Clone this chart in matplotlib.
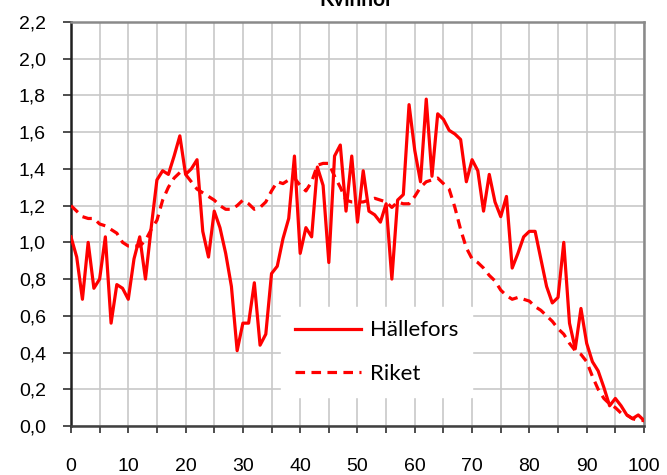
#!/usr/bin/env python3
import matplotlib
matplotlib.use("Agg")
import matplotlib.pyplot as plt
import numpy as np
from matplotlib.ticker import MultipleLocator, FuncFormatter

# age 0..100
ages = np.arange(0, 101)

hallefors = [
    1.03, 0.92, 0.69, 1.00, 0.75, 0.80, 1.03, 0.56, 0.77, 0.75,   # 0-9
    0.69, 0.91, 1.03, 0.80, 1.08, 1.34, 1.39, 1.37, 1.47, 1.58,   # 10-19
    1.37, 1.40, 1.45, 1.06, 0.92, 1.17, 1.08, 0.94, 0.76, 0.41,   # 20-29
    0.56, 0.56, 0.78, 0.44, 0.50, 0.83, 0.87, 1.02, 1.13, 1.47,   # 30-39
    0.94, 1.08, 1.03, 1.41, 1.31, 0.89, 1.47, 1.53, 1.17, 1.47,   # 40-49
    1.11, 1.39, 1.17, 1.15, 1.11, 1.21, 0.80, 1.23, 1.26, 1.75,   # 50-59
    1.50, 1.33, 1.78, 1.36, 1.70, 1.67, 1.61, 1.59, 1.56, 1.33,   # 60-69
    1.45, 1.39, 1.17, 1.37, 1.22, 1.14, 1.25, 0.86, 0.94, 1.03,   # 70-79
    1.06, 1.06, 0.91, 0.76, 0.67, 0.70, 1.00, 0.56, 0.42, 0.64,   # 80-89
    0.45, 0.35, 0.30, 0.21, 0.11, 0.15, 0.11, 0.06, 0.04, 0.06,   # 90-99
    0.03,
]

riket = [
    1.20, 1.17, 1.14, 1.13, 1.13, 1.10, 1.09, 1.07, 1.05, 1.00,   # 0-9
    0.98, 0.98, 0.98, 1.01, 1.07, 1.12, 1.23, 1.30, 1.35, 1.38,   # 10-19
    1.37, 1.33, 1.29, 1.27, 1.25, 1.23, 1.20, 1.18, 1.18, 1.20,   # 20-29
    1.23, 1.21, 1.18, 1.19, 1.22, 1.28, 1.33, 1.32, 1.34, 1.35,   # 30-39
    1.31, 1.28, 1.33, 1.42, 1.43, 1.43, 1.36, 1.30, 1.23, 1.22,   # 40-49
    1.22, 1.22, 1.23, 1.24, 1.23, 1.22, 1.19, 1.22, 1.21, 1.21,   # 50-59
    1.25, 1.30, 1.33, 1.34, 1.35, 1.32, 1.29, 1.19, 1.07, 0.97,   # 60-69
    0.91, 0.89, 0.86, 0.82, 0.79, 0.74, 0.71, 0.69, 0.70, 0.69,   # 70-79
    0.68, 0.65, 0.63, 0.60, 0.57, 0.53, 0.50, 0.45, 0.41, 0.39,   # 80-89
    0.35, 0.27, 0.20, 0.15, 0.12, 0.10, 0.07, 0.06, 0.04, 0.03,   # 90-99
    0.03,
]

RED = "#ff0000"
TICK_FONT = "Liberation Sans"
TEXT_FONT = ["Lato", "DejaVu Sans"]


def comma_fmt(v, pos):
    return f"{v:.1f}".replace(".", ",")


def main():
    fig = plt.figure(figsize=(6.67, 4.75), dpi=100)
    ax = fig.add_axes([0.1064, 0.1032, 0.8591, 0.8505])

    ax.plot(ages, hallefors, color=RED, lw=2.3, label="Hällefors", zorder=3)
    ax.plot(ages, riket, color=RED, lw=2.3, dashes=(3, 2), label="Riket", zorder=3)

    ax.set_xlim(0, 100)
    ax.set_ylim(0, 2.2)
    ax.xaxis.set_major_locator(MultipleLocator(10))
    ax.xaxis.set_minor_locator(MultipleLocator(5))
    ax.yaxis.set_major_locator(MultipleLocator(0.2))
    ax.yaxis.set_major_formatter(FuncFormatter(comma_fmt))

    ax.grid(which="both", axis="x", color="#c8c8c8", lw=1.2, zorder=0)
    ax.grid(which="major", axis="y", color="#c8c8c8", lw=1.2, zorder=0)

    ax.tick_params(axis="x", which="both", direction="out", length=5, width=1.2,
                   color="#303030", pad=18)
    ax.tick_params(axis="y", which="major", direction="out", length=6, width=1.2,
                   color="#303030", pad=12)
    for lab in ax.get_xticklabels() + ax.get_yticklabels():
        lab.set_family(TICK_FONT)
        lab.set_fontsize(14)

    for side in ("top", "right"):
        ax.spines[side].set_color("#8a8a8a")
        ax.spines[side].set_linewidth(1.8)
    ax.spines["left"].set_color("#202020")
    ax.spines["left"].set_linewidth(1.8)
    ax.spines["bottom"].set_color("#404040")
    ax.spines["bottom"].set_linewidth(1.8)

    leg = ax.legend(loc="upper left", bbox_to_anchor=(0.348, 0.322),
                    frameon=True, fancybox=False, framealpha=1.0,
                    edgecolor="white", facecolor="white",
                    prop={"family": TEXT_FONT, "size": 16},
                    handlelength=3.0, handletextpad=0.4, labelspacing=1.05,
                    borderpad=0.6)
    leg.set_zorder(5)

    # title sits partly above the canvas, as in the source image
    fig.text(0.535, 0.988, "Kvinnor", ha="center", va="baseline",
             family=TEXT_FONT, fontsize=15, fontweight="bold")

    fig.savefig("out.png", dpi=100, facecolor="white")


if __name__ == "__main__":
    main()
